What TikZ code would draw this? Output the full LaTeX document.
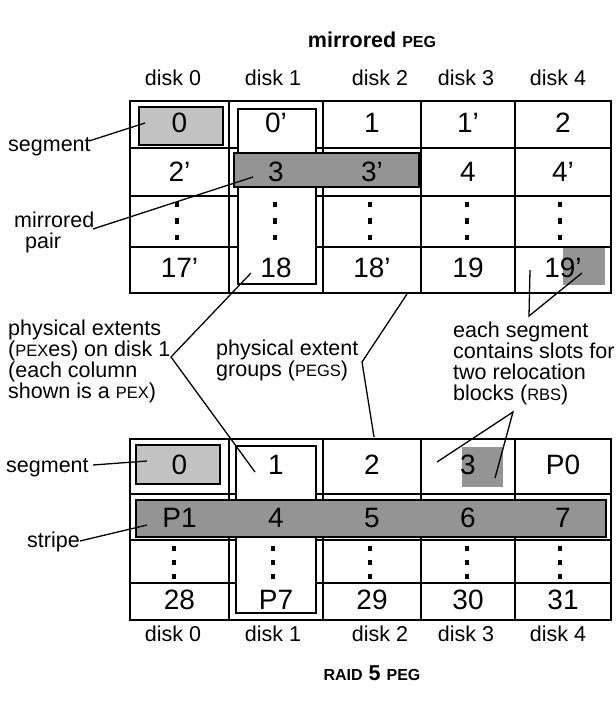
\documentclass[tikz,border=0pt]{standalone}
\usepackage{fontspec}
\setmainfont{Liberation Sans}
\newcommand\smc[1]{{\fontsize{16.5}{16.5}\selectfont #1}}
\newcommand\tsmc[1]{{\fontsize{16}{16}\selectfont\bfseries #1}}
\definecolor{segfill}{gray}{0.76}
\definecolor{darkfill}{gray}{0.58}
\begin{document}
\begin{tikzpicture}[x=1pt,y=-1pt,
  lbl/.style={font=\fontsize{21.5}{21}\selectfont, inner sep=0pt, anchor=base west},
  hdr/.style={font=\fontsize{21.5}{21}\selectfont, inner sep=0pt, anchor=base},
  num/.style={font=\fontsize{28}{28}\selectfont, inner sep=0pt, anchor=base},
  ttl/.style={font=\fontsize{21.5}{21}\selectfont\bfseries, inner sep=0pt, anchor=base},
  gridline/.style={line width=1.1pt},
  outerline/.style={line width=2.4pt},
  pexbox/.style={draw, line width=1.3pt, fill=white, inner sep=0pt},
  segbox/.style={draw, line width=1.4pt, fill=segfill, inner sep=0pt},
  pairbox/.style={draw, line width=1.4pt, fill=darkfill, inner sep=0pt},
  rbbox/.style={fill=darkfill, inner sep=0pt},
  dotmark/.style={fill=black, inner sep=0pt, minimum width=3.2pt, minimum height=5pt},
  conn/.style={line width=1.3pt}
]
\useasboundingbox (0,0) rectangle (615,711);

% ---------------- titles and headers ----------------
\node[ttl] (t1) at (372,48) {mirrored \tsmc{PEG}};
\node[ttl] (t2) at (372,680) {\tsmc{RAID} 5 \tsmc{PEG}};

\foreach \i/\x in {0/173,1/273,2/380,3/466,4/558}{
  \node[hdr] (h\i) at (\x,86) {disk \i};
  \node[hdr] (b\i) at (\x,641) {disk \i};
}

% ---------------- top table ----------------
\foreach \x in {229,323,421,515} \draw[gridline] (\x,101) -- (\x,293);
\foreach \y in {148,196,247} \draw[gridline] (130,\y) -- (611,\y);
\node[pexbox, minimum width=78pt, minimum height=175pt] (pexT) at (277,196.5) {};
\node[segbox, minimum width=84pt, minimum height=38pt] (segT) at (181,126) {};
\node[pairbox, minimum width=185pt, minimum height=34pt] (pairT) at (326.5,170) {};
\node[rbbox, minimum width=42pt, minimum height=37pt] (rbT) at (584,266.5) {};
\draw[outerline] (130,101) rectangle (611,293);

\node[num] (n0) at (179.5,133) {0};
\node[num] (n0p) at (276,133) {0’};
\node[num] (n1) at (372,133) {1};
\node[num] (n1p) at (468,133) {1’};
\node[num] (n2) at (563,133) {2};
\node[num] (n2p) at (179.5,182) {2’};
\node[num] (n3) at (276,182) {3};
\node[num] (n3p) at (372,182) {3’};
\node[num] (n4) at (468,182) {4};
\node[num] (n4p) at (563,182) {4’};
\node[num] (n17p) at (179.5,277) {17’};
\node[num] (n18) at (276,277) {18};
\node[num] (n18p) at (372,277) {18’};
\node[num] (n19) at (468,277) {19};
\node[num] (n19p) at (563,277) {19’};

\foreach \c/\x in {0/177,1/275,2/370,3/467,4/560}{
  \foreach \d/\y in {a/205,b/221,c/237}{
    \node[dotmark] (dt\c\d) at (\x,\y) {};
  }
}

% ---------------- bottom table ----------------
\foreach \x in {229,323,421,515} \draw[gridline] (\x,439) -- (\x,620);
\foreach \y in {494,540,583} \draw[gridline] (130,\y) -- (611,\y);
\node[pexbox, minimum width=80pt, minimum height=167pt] (pexB) at (276,529.5) {};
\node[segbox, minimum width=84pt, minimum height=39pt] (segB) at (178,464.5) {};
\node[pairbox, minimum width=470pt, minimum height=37pt] (stripe) at (371,518.5) {};
\node[rbbox, minimum width=41pt, minimum height=40pt] (rbB) at (482.5,467) {};
\draw[outerline] (130,439) rectangle (611,620);

\node[num] (m0) at (179.5,474) {0};
\node[num] (m1) at (276,474) {1};
\node[num] (m2) at (372,474) {2};
\node[num] (m3) at (468,474) {3};
\node[num] (mP0) at (563,474) {P0};
\node[num] (mP1) at (179.5,527) {P1};
\node[num] (m4) at (276,527) {4};
\node[num] (m5) at (372,527) {5};
\node[num] (m6) at (468,527) {6};
\node[num] (m7) at (563,527) {7};
\node[num] (m28) at (179.5,609) {28};
\node[num] (mP7) at (276,609) {P7};
\node[num] (m29) at (372,609) {29};
\node[num] (m30) at (468,609) {30};
\node[num] (m31) at (563,609) {31};

\foreach \c/\x in {0/174,1/273,2/370,3/467,4/560}{
  \foreach \d/\y in {a/548,b/562,c/576}{
    \node[dotmark] (db\c\d) at (\x,\y) {};
  }
}

% ---------------- labels ----------------
\node[lbl] (lsegT) at (8,152) {segment};
\node[lbl] (lmir1) at (14,227) {mirrored};
\node[lbl] (lmir2) at (25,248) {pair};
\node[lbl] (lpex1) at (8,335) {physical extents};
\node[lbl] (lpex2) at (8,356) {(\smc{PEX}es) on disk 1};
\node[lbl] (lpex3) at (8,377) {(each column};
\node[lbl] (lpex4) at (8,398) {shown is a \smc{PEX})};
\node[lbl] (lpeg1) at (216,355) {physical extent};
\node[lbl] (lpeg2) at (216,376) {groups (\smc{PEGS})};
\node[lbl] (lrb1) at (453,337) {each segment};
\node[lbl] (lrb2) at (453,358) {contains slots for};
\node[lbl] (lrb3) at (453,379) {two relocation};
\node[lbl] (lrb4) at (453,400) {blocks (\smc{RBS})};
\node[lbl] (lsegB) at (6,472) {segment};
\node[lbl] (lstr) at (27,547) {stripe};

% ---------------- connector coordinates ----------------
\coordinate (cSegTa) at (89,141);
\coordinate (cSegTb) at (145,123);
\coordinate (cMira) at (93,229);
\coordinate (cMirb) at (253,177);
\coordinate (cPexV) at (171,357);
\coordinate (cPexA) at (251,273);
\coordinate (cPexB) at (255,472);
\coordinate (cPegV) at (362,362);
\coordinate (cPegA) at (407,294);
\coordinate (cPegB) at (374,437);
\coordinate (cRbTV) at (529,316);
\coordinate (cRbTA) at (530,270);
\coordinate (cRbTB) at (582,273);
\coordinate (cRbBV) at (513,412);
\coordinate (cRbBA) at (437,462);
\coordinate (cRbBB) at (495,478);
\coordinate (cSegBa) at (93,465);
\coordinate (cSegBb) at (147,461);
\coordinate (cStra) at (80,541);
\coordinate (cStrb) at (147,525);

\draw[conn] (cSegTa) -- (cSegTb);
\draw[conn] (cMira) -- (cMirb);
\draw[conn] (cPexA) -- (cPexV) -- (cPexB);
\draw[conn] (cPegA) -- (cPegV) -- (cPegB);
\draw[conn] (cRbTA) -- (cRbTV) -- (cRbTB);
\draw[conn] (cRbBA) -- (cRbBV) -- (cRbBB);
\draw[conn] (cSegBa) -- (cSegBb);
\draw[conn] (cStra) -- (cStrb);
\end{tikzpicture}
\end{document}
